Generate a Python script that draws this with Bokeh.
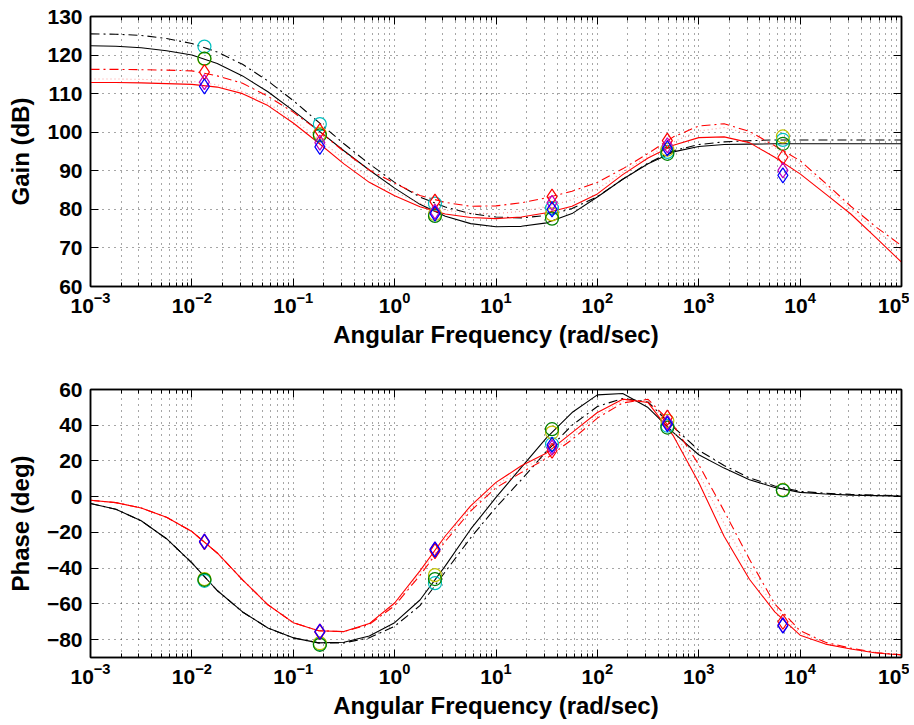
from bokeh.plotting import figure
from bokeh.models import Range1d, FixedTicker, LogAxis, LinearAxis
from bokeh.layouts import column
from bokeh.embed import file_html
from bokeh.resources import INLINE

# ---------------- data ----------------
log_w = [-3, -2.75, -2.5, -2.25, -2, -1.75, -1.5, -1.25, -1, -0.75, -0.5, -0.25,
         0, 0.25, 0.5, 0.75, 1, 1.25, 1.5, 1.75, 2, 2.25, 2.5, 2.75,
         3, 3.25, 3.5, 3.75, 4, 4.25, 4.5, 4.75, 5]
w = [10 ** e for e in log_w]

gain_black_solid = [122.4, 122.3, 121.9, 121.1, 120.0, 117.8, 114.6, 110.5, 105.6, 100.4, 95.2, 90.2,
                    85.5, 81.3, 78.2, 76.3, 75.5, 75.6, 76.5, 78.9, 83.2, 87.8, 91.8, 94.9,
                    96.3, 96.8, 96.9, 97.0, 97.0, 97.0, 97.0, 97.0, 97.0]
gain_black_dashdot = [125.5, 125.4, 125.1, 124.3, 123.0, 120.8, 117.6, 113.3, 108.2, 102.6, 97.0, 91.8,
                      87.0, 83.2, 80.6, 78.9, 78.0, 77.8, 78.4, 80.2, 83.3, 87.8, 92.0, 95.2,
                      96.8, 97.5, 97.8, 98.0, 98.0, 98.0, 98.0, 98.0, 98.0]
gain_red_solid = [112.9, 112.9, 112.8, 112.6, 112.4, 111.7, 110.0, 106.9, 102.4, 97.2, 91.8, 87.0,
                  83.5, 80.7, 78.8, 77.9, 77.6, 78.0, 79.1, 80.8, 84.0, 89.0, 93.3, 96.6,
                  98.6, 98.8, 97.3, 93.5, 89.2, 84.0, 78.8, 72.6, 66.3]
gain_red_dashdot = [116.3, 116.3, 116.2, 116.1, 115.9, 114.6, 112.7, 109.3, 105.2, 100.4, 95.0, 90.2,
                    86.8, 83.6, 81.8, 80.8, 80.9, 81.7, 83.0, 84.7, 87.0, 90.5, 94.5, 98.8,
                    101.6, 102.2, 100.2, 96.5, 92.6, 86.8, 80.8, 75.4, 70.6]
gain_red_dotted = [113.8, 113.8, 113.7, 113.5, 113.2, 112.3, 110.5, 107.5, 103.3, 98.3, 93.0, 88.2,
                   84.5, 81.6, 79.8, 79.0, 78.9, 79.5, 80.7, 82.5, 85.3, 89.6, 93.8, 97.5,
                   100.3, 101.2, 99.6, 96.0, 91.8, 86.0, 80.0, 74.5, 69.5]

phase_black_solid = [-3.8, -7.0, -13.5, -23.5, -37.0, -52.5, -64.5, -73.5, -79.0, -81.8, -81.5, -78.0,
                     -70.5, -57.8, -38.7, -18.2, -0.4, 16.4, 33.1, 47.1, 57.0, 57.8, 49.9, 35.9,
                     23.5, 16.0, 9.5, 5.2, 2.4, 1.5, 0.9, 0.6, 0.3]
phase_black_dashdot = [-3.8, -7.0, -13.5, -23.5, -37.0, -52.5, -64.5, -73.5, -79.0, -81.8, -81.8, -79.0,
                       -72.5, -61.0, -42.0, -23.0, -6.0, 9.5, 25.5, 40.0, 50.5, 55.0, 53.0, 39.0,
                       26.0, 17.5, 10.5, 6.0, 3.0, 1.9, 1.3, 0.9, 0.6]
phase_red_solid = [-2.0, -3.3, -6.3, -11.5, -19.5, -31.5, -46.5, -60.5, -70.5, -75.0, -75.5, -71.0,
                   -59.5, -41.5, -22.0, -5.1, 8.0, 17.3, 24.5, 35.9, 47.1, 54.6, 52.7, 34.0,
                   8.0, -22.1, -46.2, -64.5, -77.5, -82.5, -85.2, -87.5, -88.6]
phase_red_dashdot = [-2.0, -3.3, -6.3, -11.5, -19.5, -31.5, -46.5, -60.5, -70.5, -75.0, -75.5, -71.5,
                     -61.0, -44.0, -25.0, -8.0, 5.0, 13.5, 21.5, 32.0, 44.0, 52.5, 54.5, 40.0,
                     18.0, -8.0, -35.0, -60.0, -75.0, -81.5, -84.8, -87.2, -88.5]
phase_red_dotted = [-2.0, -3.3, -6.3, -11.5, -19.5, -31.5, -46.5, -60.5, -70.5, -75.0, -75.5, -71.2,
                    -60.2, -42.8, -23.5, -6.5, 6.5, 15.4, 23.0, 34.0, 45.5, 53.5, 53.6, 37.0,
                    13.0, -15.0, -40.6, -62.2, -76.2, -82.0, -85.0, -87.3, -88.5]

# measured points
mk_w = [0.0133, 0.183, 2.5, 35.7, 490, 6760]
gain_cyan = [122.2, 102.1, 81.5, 80.3, 94.9, 98.0]
gain_yellow = [119.0, 99.6, 78.8, 78.7, 95.5, 98.9]
gain_green = [119.1, 99.2, 78.3, 77.6, 94.4, 97.0]
gain_red = [115.6, 100.3, 82.0, 83.3, 97.8, 93.5]
gain_magenta = [113.0, 97.3, 79.4, 81.7, 96.6, 90.1]
gain_blue = [111.9, 96.2, 78.9, 80.0, 95.8, 88.8]

phase_cyan = [-47.1, -82.5, -48.4, 29.4, 39.7, 3.5]
phase_yellow = [-46.1, -82.0, -43.9, 35.9, 42.5, 3.8]
phase_green = [-46.5, -82.9, -46.1, 37.8, 38.7, 3.6]
phase_red = [-25.5, -75.8, -30.5, 25.7, 44.3, -70.0]
phase_magenta = [-25.0, -75.4, -29.4, 27.5, 41.5, -71.9]
phase_blue = [-25.2, -75.6, -29.6, 29.0, 40.6, -72.2]

x_decades = [1e-3, 1e-2, 1e-1, 1e0, 1e1, 1e2, 1e3, 1e4, 1e5]
gain_ticks = [60, 70, 80, 90, 100, 110, 120, 130]
phase_ticks = [-80, -60, -40, -20, 0, 20, 40, 60]

FONT = "Liberation Sans"
DASHDOT = "9 4 2 4"
GRID_DASH = "1 5"

x_minor = [d * m for d in x_decades[:-1] for m in range(2, 10)]


def make_fig(y_lo, y_hi, yticks, ylabel, border_top, border_bottom, frame_h):
    p = figure(x_axis_type="log", x_range=Range1d(1e-3, 1e5), y_range=Range1d(y_lo, y_hi),
               frame_width=811, frame_height=frame_h,
               min_border_left=90, min_border_right=8,
               min_border_top=border_top, min_border_bottom=border_bottom,
               output_backend="svg", toolbar_location=None)
    xt = FixedTicker(ticks=x_decades, minor_ticks=x_minor)
    yt = FixedTicker(ticks=yticks, minor_ticks=[])
    p.xaxis.ticker = xt
    p.yaxis.ticker = yt
    p.outline_line_color = "black"
    p.outline_line_width = 1.5
    for ax in (p.xaxis[0], p.yaxis[0]):
        ax.axis_line_width = 1.5
        ax.major_tick_in = 8
        ax.major_tick_out = 0
        ax.minor_tick_in = 4
        ax.minor_tick_out = 0
        ax.major_tick_line_width = 1
        ax.major_label_text_font = FONT
        ax.major_label_text_font_style = "bold"
        ax.major_label_text_font_size = "21px"
        ax.major_label_text_color = "black"
        ax.axis_label_text_font = FONT
        ax.axis_label_text_font_style = "bold"
        ax.axis_label_text_font_size = "24px"
        ax.axis_label_text_color = "black"
    p.xaxis.axis_label = "Angular Frequency (rad/sec)"
    p.xaxis.major_label_standoff = 5
    p.xaxis.axis_label_standoff = 5
    p.yaxis.axis_label = ylabel
    p.yaxis.major_label_standoff = 8
    p.yaxis.axis_label_standoff = 10
    p.yaxis.major_label_overrides = {t: (("\u2212%d" % -t) if t < 0 else str(t)) for t in yticks}

    top = LogAxis(ticker=xt, major_label_text_font_size="1px", major_label_text_alpha=0,
                  major_label_standoff=0,
                  major_tick_in=8, major_tick_out=0, minor_tick_in=4, minor_tick_out=0,
                  axis_line_width=1.5)
    right = LinearAxis(ticker=yt, major_label_text_font_size="1px", major_label_text_alpha=0,
                       major_label_standoff=0,
                       major_tick_in=8, major_tick_out=0, minor_tick_in=0, minor_tick_out=0,
                       axis_line_width=1.5)
    p.add_layout(top, "above")
    p.add_layout(right, "right")

    p.xgrid.grid_line_color = "black"
    p.xgrid.grid_line_dash = GRID_DASH
    p.xgrid.grid_line_alpha = 0.7
    p.xgrid.minor_grid_line_color = "black"
    p.xgrid.minor_grid_line_dash = GRID_DASH
    p.xgrid.minor_grid_line_alpha = 0.7
    p.ygrid.grid_line_color = "black"
    p.ygrid.grid_line_dash = GRID_DASH
    p.ygrid.grid_line_alpha = 0.7
    return p


def draw(p, bs, bd, rs, rd, rdot, cy, ye, gr, rm, mg, bl):
    p.line(w, bs, line_color="black", line_width=1.1)
    p.line(w, bd, line_color="black", line_width=1.1, line_dash=DASHDOT)
    p.line(w, rdot, line_color="#ff7070", line_width=1.1, line_dash="1 3", line_alpha=0.7)
    p.line(w, rd, line_color="red", line_width=1.1, line_dash=DASHDOT)
    p.line(w, rs, line_color="red", line_width=1.1)
    for vals, col in ((cy, "#00bfbf"), (ye, "#bfbf00"), (gr, "#008000")):
        p.scatter(mk_w, vals, marker="circle", size=13, fill_color=None,
                  line_color=col, line_width=1.2)
    for vals, col in ((rm, "#ff0000"), (mg, "#bf00bf"), (bl, "#0000ff")):
        p.scatter(mk_w, vals, marker="diamond", size=15, fill_color=None,
                  line_color=col, line_width=1.2)


p1 = make_fig(60, 130, gain_ticks, "Gain (dB)", 16, 62, 270)
draw(p1, gain_black_solid, gain_black_dashdot, gain_red_solid, gain_red_dashdot, gain_red_dotted,
     gain_cyan, gain_yellow, gain_green, gain_red, gain_magenta, gain_blue)

p2 = make_fig(-90, 60, phase_ticks, "Phase (deg)", 39, 60, 268)
draw(p2, phase_black_solid, phase_black_dashdot, phase_red_solid, phase_red_dashdot, phase_red_dotted,
     phase_cyan, phase_yellow, phase_green, phase_red, phase_magenta, phase_blue)

layout = column(p1, p2, spacing=0)
open("out.html", "w").write(file_html(layout, INLINE))
